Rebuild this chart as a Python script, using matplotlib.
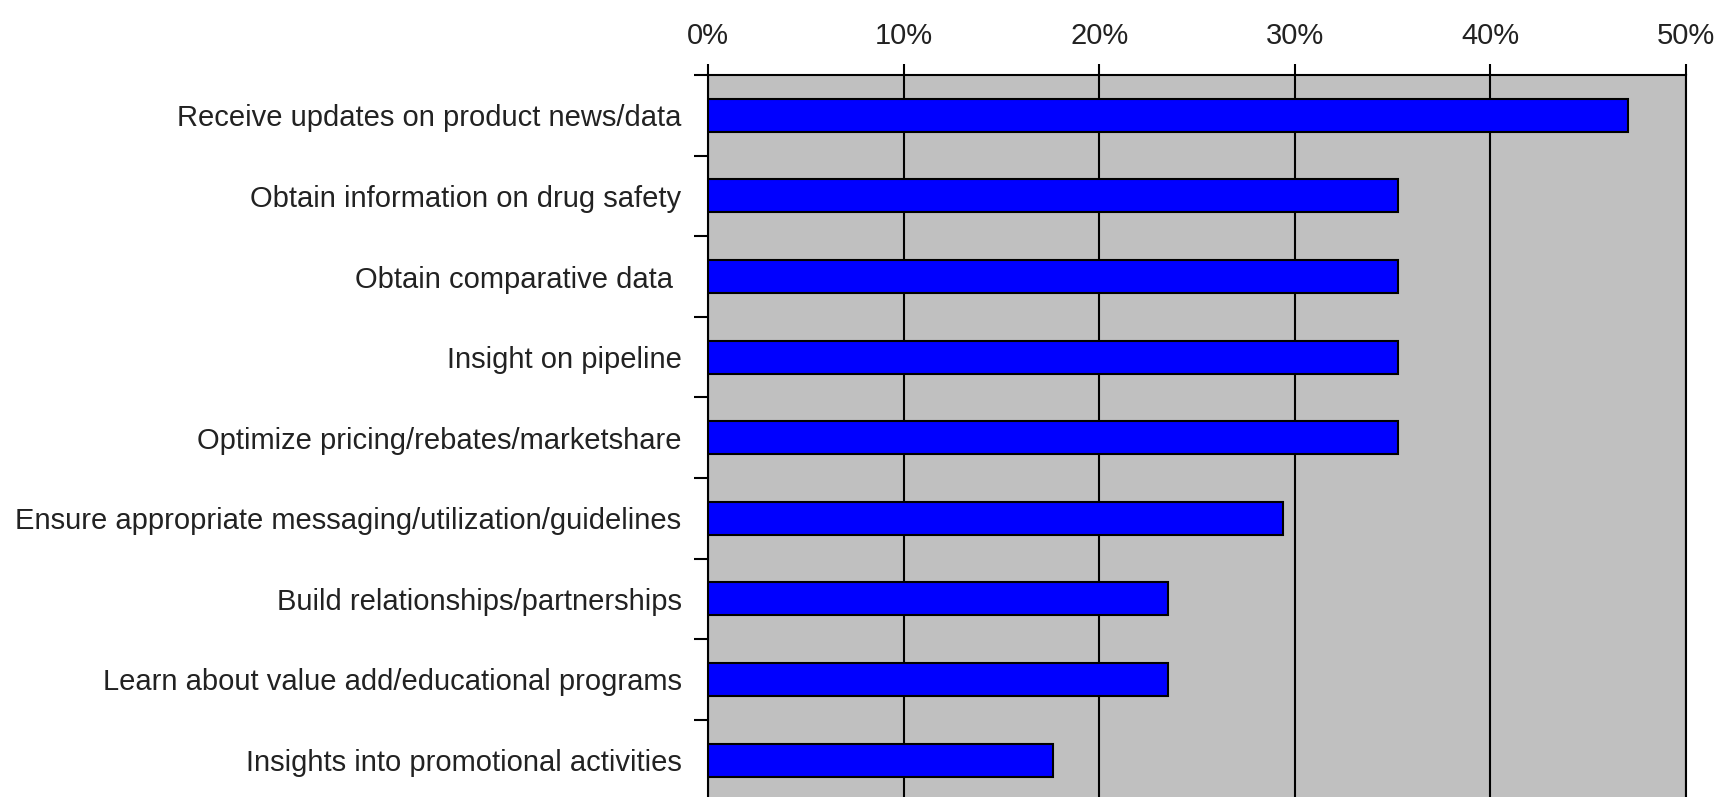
import matplotlib
matplotlib.use("Agg")
import matplotlib.pyplot as plt
from matplotlib.ticker import FixedLocator

categories = [
    "Receive updates on product news/data",
    "Obtain information on drug safety",
    "Obtain comparative data ",
    "Insight on pipeline",
    "Optimize pricing/rebates/marketshare",
    "Ensure appropriate messaging/utilization/guidelines",
    "Build relationships/partnerships",
    "Learn about value add/educational programs",
    "Insights into promotional activities",
]
values = [0.4706, 0.3529, 0.3529, 0.3529, 0.3529, 0.2941, 0.2353, 0.2353, 0.1765]
x_ticks = [0.0, 0.1, 0.2, 0.3, 0.4, 0.5]
x_tick_labels = ["0%", "10%", "20%", "30%", "40%", "50%"]

plt.rcParams['font.family'] = ['Liberation Sans', 'DejaVu Sans']

W, H = 1717, 797
fig = plt.figure(figsize=(W / 100, H / 100), dpi=100)
fig.patch.set_facecolor('white')

left = 708 / W
right = 1686 / W
top = 1 - 75 / H
band = 80.6
bottom = 1 - (75 + 9 * band) / H
ax = fig.add_axes([left, bottom, right - left, top - bottom])
ax.set_facecolor('#C0C0C0')

ypos = list(range(len(categories)))
ax.barh(ypos, values, height=0.41, color='#0000FF', edgecolor='black',
        linewidth=1.5, zorder=3)

ax.set_xlim(0, 0.5)
ax.set_ylim(len(categories) - 0.5, -0.5)

# x axis on top
ax.xaxis.tick_top()
ax.set_xticks(x_ticks)
ax.set_xticklabels(x_tick_labels)
ax.tick_params(axis='x', which='major', length=8, width=1.5, direction='out',
               pad=10, labelsize=21, colors='black', labelcolor='#222222')
ax.grid(axis='x', color='black', linewidth=1.5, zorder=1)
ax.set_axisbelow(True)

# y axis: labels at centers, ticks at band boundaries
ax.set_yticks(ypos)
ax.set_yticklabels(categories)
ax.yaxis.set_minor_locator(FixedLocator([i - 0.5 for i in range(len(categories) + 1)]))
ax.tick_params(axis='y', which='major', length=0, pad=19, labelsize=21,
               labelcolor='#222222')
ax.tick_params(axis='y', which='minor', length=10, width=1.5, direction='out',
               color='black')

for s in ['top', 'left', 'right']:
    ax.spines[s].set_color('black')
    ax.spines[s].set_linewidth(1.5)
ax.spines['bottom'].set_visible(False)

fig.savefig('out.png', dpi=100, facecolor='white')
